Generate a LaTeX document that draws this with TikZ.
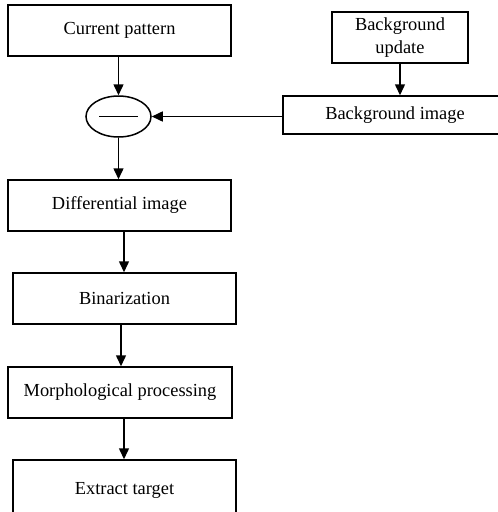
\documentclass[tikz,border=0pt]{standalone}
\usepackage{fontspec}
\setmainfont{Liberation Serif}
\usetikzlibrary{arrows.meta,shapes.geometric}
\begin{document}
\begin{tikzpicture}[x=1pt,y=-1pt,
  box/.style={draw,line width=1.5pt,minimum height=51pt,inner sep=0pt,
    font=\fontsize{18.4}{23}\selectfont,align=center},
  arr/.style={line width=1.5pt,-{Triangle[length=11pt,width=10pt]}}]
\useasboundingbox (0,0) rectangle (498,512);
% main processing chain
\node[box,minimum width=223pt] (cur) at (119.5,30.5) {Current pattern};
\node[draw,ellipse,line width=1.5pt,minimum width=65pt,minimum height=41pt,inner sep=0pt] (sub) at (118.5,116.5) {};
\draw[line width=1.6pt] ([xshift=-19.5pt]sub.center) -- ([xshift=19.5pt]sub.center);
\node[box,minimum width=223pt] (diff) at (119.5,205.5) {Differential image};
\node[box,minimum width=223pt] (bin) at (124.5,298.5) {Binarization};
\node[box,minimum width=224pt] (morph) at (120,392.5) {Morphological processing};
\node[box,minimum width=223pt,minimum height=60pt] (ext) at (124.5,490) {Extract target};
% background branch
\node[box,minimum width=136pt] (bgu) at (400,37.5) {Background\\update};
\node[box,minimum width=224pt,minimum height=38pt] (bgi) at (395,115) {Background image};
% connectors
\draw[arr] (cur.south -| sub.north) -- (sub.north);
\draw[arr] (bgu.south) -- (bgu.south |- bgi.north);
\draw[arr] (bgi.west |- sub.east) -- (sub.east);
\draw[arr] (sub.south) -- (sub.south |- diff.north);
\draw[arr] ([xshift=4.5pt]diff.south) -- ([xshift=4.5pt]diff.south |- bin.north);
\draw[arr] ([xshift=-3.5pt]bin.south) -- ([xshift=-3.5pt]bin.south |- morph.north);
\draw[arr] ([xshift=4pt]morph.south) -- ([xshift=4pt]morph.south |- ext.north);
\end{tikzpicture}
\end{document}
